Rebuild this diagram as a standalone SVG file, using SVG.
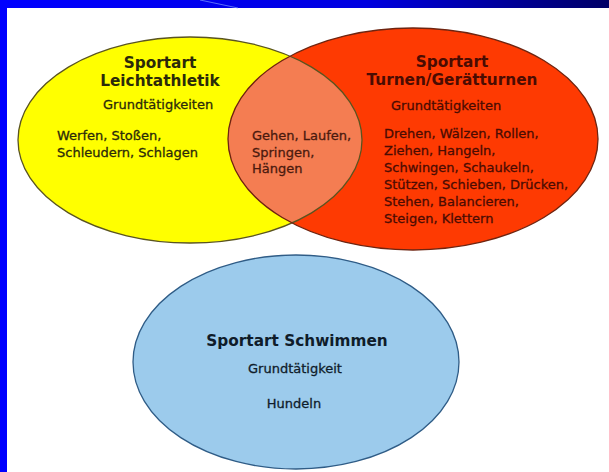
<svg xmlns="http://www.w3.org/2000/svg" width="609" height="472" viewBox="0 0 609 472">
<defs>
<linearGradient id="band" x1="0" y1="0" x2="1" y2="0">
<stop offset="0" stop-color="#0000ff"/>
<stop offset="0.6" stop-color="#0000e0"/>
<stop offset="1" stop-color="#000066"/>
</linearGradient>
<clipPath id="clipY"><ellipse cx="190" cy="140" rx="172" ry="103"/></clipPath>
</defs>
<style>
.t{font-family:"DejaVu Sans","Open Sans",sans-serif;font-size:13px;stroke-width:0.3px}
.b{font-weight:bold;font-size:15.3px;stroke-width:0}
.m{text-anchor:middle}
.ol{fill:none;stroke-width:1.3}
</style>
<rect x="0" y="0" width="609" height="472" fill="#ffffff"/>
<rect x="0" y="0" width="609" height="8" fill="url(#band)"/>
<rect x="0" y="0" width="7" height="472" fill="#0000ff"/>
<line x1="200" y1="0" x2="238" y2="8" stroke="#7f9cff" stroke-width="1" opacity="0.7"/>

<g id="leichtathletik">
<ellipse cx="190" cy="140" rx="172" ry="103" fill="#ffff00"/>
</g>
<g id="turnen">
<ellipse cx="413" cy="139" rx="185" ry="111" fill="#fe3a02"/>
</g>
<g id="overlap">
<ellipse cx="413" cy="139" rx="185" ry="111" fill="#f47d52" clip-path="url(#clipY)"/>
</g>
<ellipse class="ol" cx="190" cy="140" rx="172" ry="103" stroke="#5a5420"/>
<ellipse class="ol" cx="413" cy="139" rx="185" ry="111" stroke="#6e2410"/>

<g id="leichtathletik-text" fill="#2b2a0a" stroke="#2b2a0a">
<text class="t b m" x="160" y="68">Sportart</text>
<text class="t b m" x="160" y="86">Leichtathletik</text>
<text class="t" x="103" y="109">Grundtätigkeiten</text>
<text class="t" x="57" y="140">Werfen, Stoßen,</text>
<text class="t" x="57" y="157">Schleudern, Schlagen</text>
</g>
<g id="overlap-text" fill="#4a1a0e" stroke="#4a1a0e">
<text class="t" x="252" y="140">Gehen, Laufen,</text>
<text class="t" x="252" y="156.5">Springen,</text>
<text class="t" x="252" y="173">Hängen</text>
</g>
<g id="turnen-text" fill="#4a0c02" stroke="#4a0c02">
<text class="t b m" x="452" y="67">Sportart</text>
<text class="t b m" x="452" y="85">Turnen/Gerätturnen</text>
<text class="t" x="391" y="110">Grundtätigkeiten</text>
<text class="t" x="384" y="138">Drehen, Wälzen, Rollen,</text>
<text class="t" x="384" y="155">Ziehen, Hangeln,</text>
<text class="t" x="384" y="172">Schwingen, Schaukeln,</text>
<text class="t" x="384" y="189">Stützen, Schieben, Drücken,</text>
<text class="t" x="384" y="206">Stehen, Balancieren,</text>
<text class="t" x="384" y="223">Steigen, Klettern</text>
</g>

<g id="schwimmen">
<ellipse cx="296" cy="362" rx="163" ry="107" fill="#9ccbec" stroke="#2f5c86" stroke-width="1.3"/>
<g fill="#0f1c2a" stroke="#0f1c2a">
<text class="t b m" x="297" y="346">Sportart Schwimmen</text>
<text class="t m" x="295" y="373">Grundtätigkeit</text>
<text class="t m" x="294" y="408">Hundeln</text>
</g>
</g>
<g id="connectors"/>
</svg>
